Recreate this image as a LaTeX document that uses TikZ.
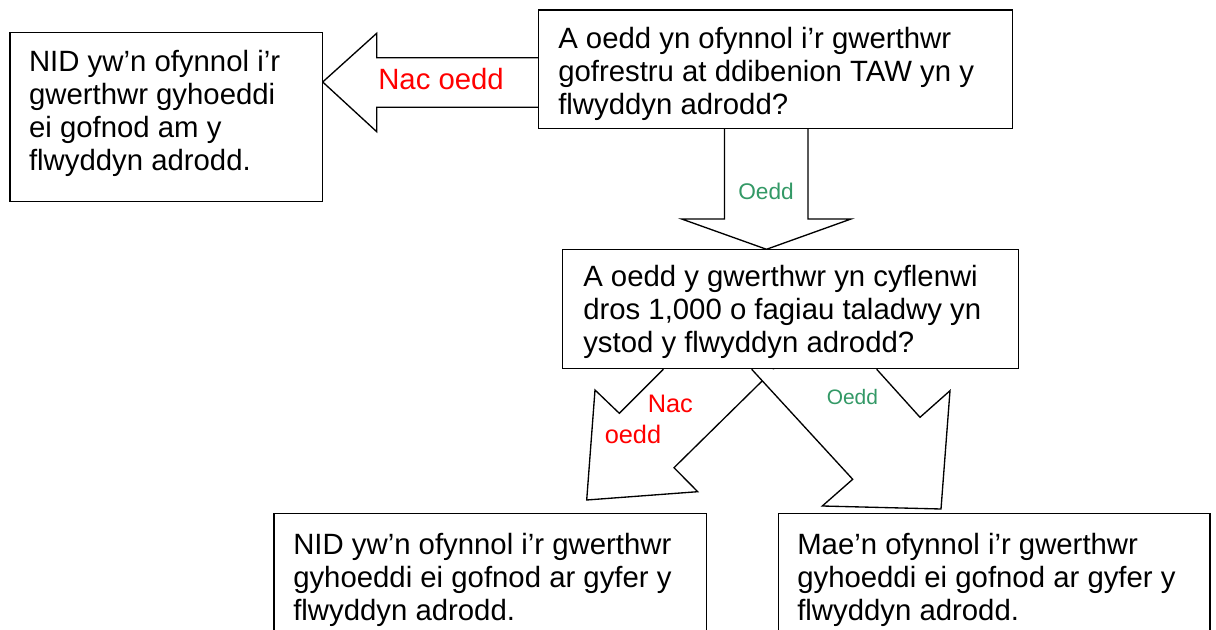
\documentclass[tikz,border=0pt]{standalone}
\usepackage{fontspec}
\setmainfont{Liberation Sans}
\usetikzlibrary{fit}
\definecolor{nored}{RGB}{255,0,0}
\definecolor{yesgreen}{RGB}{51,153,102}
\begin{document}
\begin{tikzpicture}[x=0.75pt,y=-0.75pt,
  box/.style={draw=black, line width=1pt, fill=white, inner sep=0pt, rectangle},
  blockarrow/.style={draw=black, line width=1pt, fill=white, line join=miter},
  txt/.style={anchor=base west, inner sep=0pt, font=\fontsize{22}{24.75}\selectfont},
  lbl/.style={anchor=base west, inner sep=0pt}]
\useasboundingbox (0,0) rectangle (1216,630);
\clip (0,0) rectangle (1216,630);
% block arrows
\draw[blockarrow] (538.3,57.7) -- (376.7,57.7) -- (376.7,33.3) -- (322.7,82) -- (376.7,131.7) -- (376.7,107.3) -- (538.3,107.3);
\draw[blockarrow] (724.5,128.3) -- (724.5,219) -- (681.7,219) -- (766.5,249.3) -- (851,219) -- (808,219) -- (808,128.3);
\draw[blockarrow] (663.3,369.3) -- (619.3,413.3) -- (595,390) -- (586.7,500) -- (697.7,491.7) -- (674,467.7) -- (774,369.3);
\draw[blockarrow] (751.7,369.3) -- (852.7,479.3) -- (822.3,506) -- (941,509) -- (950,390.7) -- (920,417.3) -- (876.7,369.3);
% boxes
\node[box, fit={(10,32.7) (322.7,201.7)}] (nr1) {};
\node[box, fit={(538.3,10) (1012.7,128.3)}] (q1) {};
\node[box, fit={(562.7,249.3) (1018.3,368.5)}] (q2) {};
\node[box, fit={(274,513.3) (706.7,660)}] (nr2) {};
\node[box, fit={(778.3,513.3) (1210,660)}] (r2) {};
% texts
\node[txt] (nr1t) at (28.8,71.7) {\parbox[t]{300pt}{NID yw’n ofynnol i’r\\gwerthwr gyhoeddi\\ei gofnod am y\\flwyddyn adrodd.}};
\node[txt] (q1t) at (558,48.3) {\parbox[t]{340pt}{A oedd yn ofynnol i’r gwerthwr\\gofrestru at ddibenion TAW yn y\\flwyddyn adrodd?}};
\node[txt] (q2t) at (583,286.7) {\parbox[t]{340pt}{A oedd y gwerthwr yn cyflenwi\\dros 1,000 o fagiau taladwy yn\\ystod y flwyddyn adrodd?}};
\node[txt] (nr2t) at (293,554) {\parbox[t]{320pt}{NID yw’n ofynnol i’r gwerthwr\\gyhoeddi ei gofnod ar gyfer y\\flwyddyn adrodd.}};
\node[txt] (r2t) at (797,554) {\parbox[t]{320pt}{Mae’n ofynnol i’r gwerthwr\\gyhoeddi ei gofnod ar gyfer y\\flwyddyn adrodd.}};
% labels
\node[lbl, text=nored, font=\fontsize{22}{24}\selectfont] (l1) at (378,90) {Nac oedd};
\node[lbl, text=yesgreen, font=\fontsize{17}{20}\selectfont, anchor=base] (l2) at (766,199.3) {Oedd};
\node[lbl, text=nored, font=\fontsize{19}{22}\selectfont] (l3) at (647.5,412.7) {Nac};
\node[lbl, text=nored, font=\fontsize{19}{22}\selectfont] (l4) at (604.5,443.3) {oedd};
\node[lbl, text=yesgreen, font=\fontsize{15.7}{18}\selectfont] (l5) at (826.5,405) {Oedd};
\end{tikzpicture}
\end{document}
